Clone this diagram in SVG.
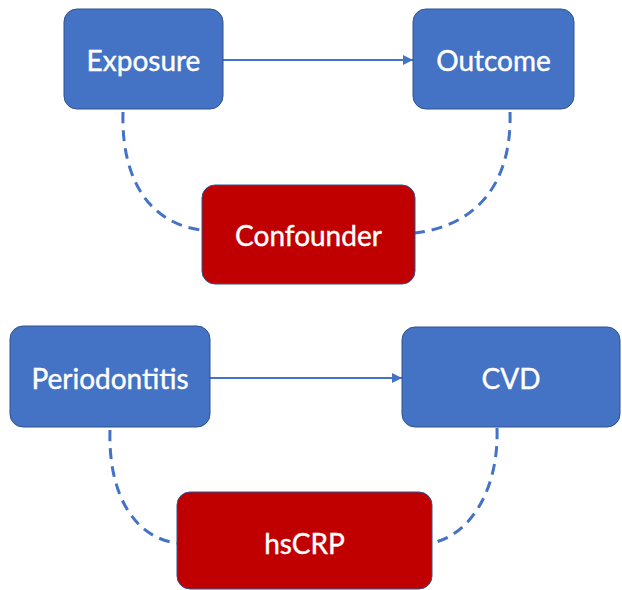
<svg xmlns="http://www.w3.org/2000/svg" width="622" height="590" viewBox="0 0 622 590">
<defs>
<style>
.blue{fill:#4472C4;stroke:#2F528F;stroke-width:1}
.red{fill:#C00000;stroke:#2F528F;stroke-width:1}
.lbl{fill:#FFFFFF;font-family:Lato,"Open Sans","Liberation Sans",sans-serif;font-size:28px;text-anchor:middle;dominant-baseline:central;stroke:#FFFFFF;stroke-width:0.4}
.arrow{stroke:#4472C4;stroke-width:2;fill:none}
.dash{stroke:#4472C4;stroke-width:3;fill:none;stroke-dasharray:11 7}
</style>
<marker id="ah" viewBox="0 0 10 10" refX="10" refY="5" markerWidth="5" markerHeight="5" markerUnits="strokeWidth" orient="auto">
<path d="M0,0 L10,5 L0,10 Z" fill="#4472C4"/>
</marker>
</defs>
<rect width="622" height="590" fill="#FFFFFF"/>
<g id="connectors">
<line class="arrow" x1="223" y1="60" x2="413" y2="60" marker-end="url(#ah)"/>
<line class="arrow" x1="210" y1="378" x2="402" y2="378" marker-end="url(#ah)"/>
<path class="dash" d="M123,112 C121,180 150,224 202,230"/>
<path class="dash" d="M510,112 C512,180 480,225 415,233"/>
<path class="dash" d="M110,430 C108,495 135,538 177,543"/>
<path class="dash" d="M497,428 C499,490 470,535 432,543"/>
</g>
<g id="exposure">
<rect class="blue" x="64" y="9" width="159" height="100" rx="13"/>
<text class="lbl" x="143.5" y="60">Exposure</text>
</g>
<g id="outcome">
<rect class="blue" x="413" y="9" width="161" height="100" rx="13"/>
<text class="lbl" x="493.5" y="60">Outcome</text>
</g>
<g id="confounder">
<rect class="red" x="202" y="185" width="213" height="99" rx="13"/>
<text class="lbl" x="308.5" y="235">Confounder</text>
</g>
<g id="periodontitis">
<rect class="blue" x="10" y="326" width="200" height="101" rx="13"/>
<text class="lbl" x="110" y="378">Periodontitis</text>
</g>
<g id="cvd">
<rect class="blue" x="402" y="327" width="218" height="100" rx="13"/>
<text class="lbl" x="511" y="378">CVD</text>
</g>
<g id="hscrp">
<rect class="red" x="177" y="492" width="255" height="97" rx="13"/>
<text class="lbl" x="304.5" y="543">hsCRP</text>
</g>
</svg>
